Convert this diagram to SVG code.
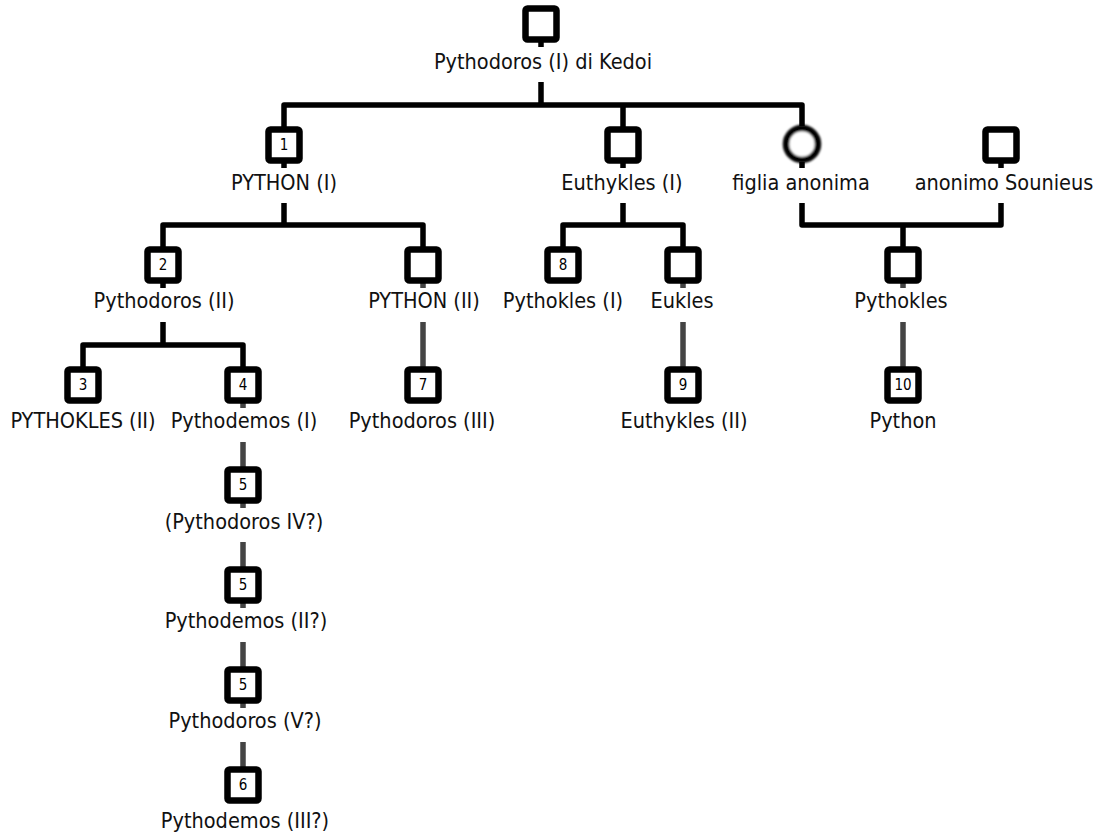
<svg xmlns="http://www.w3.org/2000/svg" width="1100" height="838" viewBox="0 0 1100 838">
  <style>
    .lbl { font-family: "DejaVu Sans Condensed", "DejaVu Sans", sans-serif; font-stretch: condensed; font-size: 21.5px; fill: #111; text-anchor: middle; }
    .num { font-family: "DejaVu Sans Condensed", "DejaVu Sans", sans-serif; font-stretch: condensed; font-size: 15px; fill: #000; text-anchor: middle; }
    .box { fill: #fff; stroke: #000; stroke-width: 6.5; }
    .fem { fill: #fff; stroke: #000; stroke-width: 6.5; filter: url(#soft); }
    .line { fill: none; stroke: #000; stroke-width: 5.5; stroke-linejoin: round; }
    .desc { fill: none; stroke: #444; stroke-width: 5.5; }
  </style>
  <defs>
    <filter id="soft" x="-20%" y="-20%" width="140%" height="140%">
      <feGaussianBlur stdDeviation="0.8"/>
    </filter>
  </defs>
  <rect width="1100" height="838" fill="#fff"/>

  <!-- connectors -->
  <g id="connectors">
    <!-- generation 0 -> 1 -->
    <path class="line" d="M541 41 V47 M541 82 V105 M284 128 V105 H802 V126 M623 105 V127"/>
    <!-- stubs below generation 1 -->
    <path class="line" d="M284 162 V168 M623 162 V168 M802 162 V168 M1001 162 V168"/>
    <!-- PYTHON (I) children -->
    <path class="line" d="M284 203 V225 M163 248 V225 H423 V248"/>
    <!-- Euthykles (I) children -->
    <path class="line" d="M623 203 V225 M563 248 V225 H683 V248"/>
    <!-- figlia anonima + anonimo Sounieus -->
    <path class="line" d="M802 203 V225 H1001 V203 M903 225 V248"/>
    <!-- Pythodoros (II) children -->
    <path class="line" d="M163 282 V288 M163 322 V345 M83 368 V345 H243 V368"/>
    <!-- single-line descents -->
    <path class="desc" d="M423 282 V288 M423 322 V368"/>
    <path class="desc" d="M683 282 V288 M683 322 V368"/>
    <path class="desc" d="M903 282 V288 M903 322 V368"/>
    <path class="desc" d="M243 402 V408 M243 442 V468 M243 502 V508 M243 542 V568 M243 602 V608 M243 642 V668 M243 702 V708 M243 742 V768"/>
  </g>

  <!-- generation 0 -->
  <g id="n-pythodoros-1">
    <rect class="box" x="525.5" y="8.5" width="31" height="31" rx="2"/>
    <text class="lbl" x="543" y="69">Pythodoros (I) di Kedoi</text>
  </g>

  <!-- generation 1 -->
  <g id="n-python-1">
    <rect class="box" x="268.5" y="129.5" width="31" height="31" rx="2"/>
    <text class="num" x="284" y="150">1</text>
    <text class="lbl" x="284" y="190">PYTHON (I)</text>
  </g>
  <g id="n-euthykles-1">
    <rect class="box" x="607.5" y="129.5" width="31" height="31" rx="2"/>
    <text class="lbl" x="622" y="190">Euthykles (I)</text>
  </g>
  <g id="n-figlia">
    <circle class="fem" cx="802" cy="144" r="16"/>
    <text class="lbl" x="801" y="190">figlia anonima</text>
  </g>
  <g id="n-sounieus">
    <rect class="box" x="985.5" y="129.5" width="31" height="31" rx="2"/>
    <text class="lbl" x="1004" y="190">anonimo Sounieus</text>
  </g>

  <!-- generation 2 -->
  <g id="n-pythodoros-2">
    <rect class="box" x="147.5" y="249.5" width="31" height="31" rx="2"/>
    <text class="num" x="163" y="270">2</text>
    <text class="lbl" x="164" y="308">Pythodoros (II)</text>
  </g>
  <g id="n-python-2">
    <rect class="box" x="407.5" y="249.5" width="31" height="31" rx="2"/>
    <text class="lbl" x="424" y="308">PYTHON (II)</text>
  </g>
  <g id="n-pythokles-1">
    <rect class="box" x="547.5" y="249.5" width="31" height="31" rx="2"/>
    <text class="num" x="563" y="270">8</text>
    <text class="lbl" x="563" y="308">Pythokles (I)</text>
  </g>
  <g id="n-eukles">
    <rect class="box" x="667.5" y="249.5" width="31" height="31" rx="2"/>
    <text class="lbl" x="682" y="308">Eukles</text>
  </g>
  <g id="n-pythokles">
    <rect class="box" x="887.5" y="249.5" width="31" height="31" rx="2"/>
    <text class="lbl" x="901" y="308">Pythokles</text>
  </g>

  <!-- generation 3 -->
  <g id="n-pythokles-2">
    <rect class="box" x="67.5" y="369.5" width="31" height="31" rx="2"/>
    <text class="num" x="83" y="390">3</text>
    <text class="lbl" x="83" y="428">PYTHOKLES (II)</text>
  </g>
  <g id="n-pythodemos-1">
    <rect class="box" x="227.5" y="369.5" width="31" height="31" rx="2"/>
    <text class="num" x="243" y="390">4</text>
    <text class="lbl" x="244" y="428">Pythodemos (I)</text>
  </g>
  <g id="n-pythodoros-3">
    <rect class="box" x="407.5" y="369.5" width="31" height="31" rx="2"/>
    <text class="num" x="423" y="390">7</text>
    <text class="lbl" x="422" y="428">Pythodoros (III)</text>
  </g>
  <g id="n-euthykles-2">
    <rect class="box" x="667.5" y="369.5" width="31" height="31" rx="2"/>
    <text class="num" x="683" y="390">9</text>
    <text class="lbl" x="684" y="428">Euthykles (II)</text>
  </g>
  <g id="n-python">
    <rect class="box" x="887.5" y="369.5" width="31" height="31" rx="2"/>
    <text class="num" x="903" y="390">10</text>
    <text class="lbl" x="903" y="428">Python</text>
  </g>

  <!-- later descendants -->
  <g id="n-pythodoros-4">
    <rect class="box" x="227.5" y="469.5" width="31" height="31" rx="2"/>
    <text class="num" x="243" y="490">5</text>
    <text class="lbl" x="244" y="529">(Pythodoros IV?)</text>
  </g>
  <g id="n-pythodemos-2">
    <rect class="box" x="227.5" y="569.5" width="31" height="31" rx="2"/>
    <text class="num" x="243" y="590">5</text>
    <text class="lbl" x="246" y="628">Pythodemos (II?)</text>
  </g>
  <g id="n-pythodoros-5">
    <rect class="box" x="227.5" y="669.5" width="31" height="31" rx="2"/>
    <text class="num" x="243" y="690">5</text>
    <text class="lbl" x="245" y="728">Pythodoros (V?)</text>
  </g>
  <g id="n-pythodemos-3">
    <rect class="box" x="227.5" y="769.5" width="31" height="31" rx="2"/>
    <text class="num" x="243" y="790">6</text>
    <text class="lbl" x="245" y="828">Pythodemos (III?)</text>
  </g>
</svg>
